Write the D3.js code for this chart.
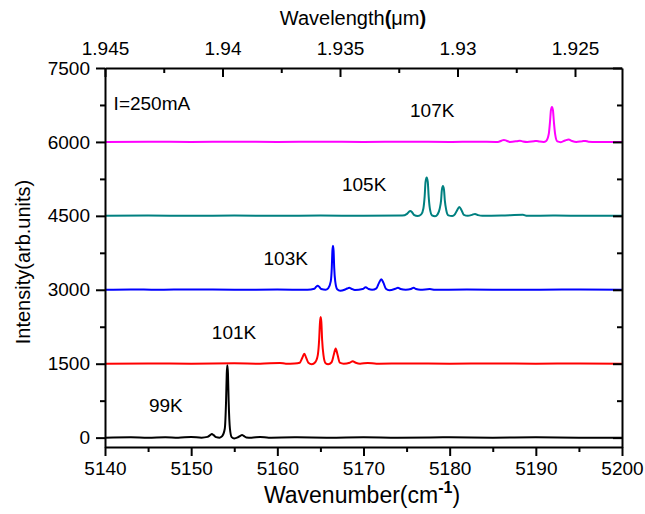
<html lang="en">
  <head>
    <title>spectra</title>
    <script src="https://d3js.org/d3.v7.min.js"></script>
    <style>
      body { margin: 0; background: #fff; }
      svg text { font-family: "Liberation Sans", Arial, sans-serif; fill: #000; }
      .axis path, .axis line { stroke: #000; stroke-width: 2; }
      .axis text { font-size: 19px; }
    </style>
  </head>
  <body>
    <svg id="chart" width="645" height="514"></svg>
    <script>

      // temperatures, curve offsets, colours
      const temps = ['99K', '101K', '103K', '105K', '107K']
      const offsets = [0, 1500, 3000, 4500, 6000]
      const colors = ['#000000', '#ff0000', '#0000ff', '#008080', '#ff00ff']

      // spectra: [wavenumber, intensity above its offset]
      const s99 = [
        [5140, 0], [5143, 8], [5145, 0], [5147, 10], [5148.5, 0], [5150, 12], [5151.2, 0],
        [5151.9, 15], [5152.2, 50], [5152.4, 72], [5152.6, 50], [5152.9, 10], [5153.3, 0],
        [5153.6, 30], [5153.9, 180], [5154.05, 740], [5154.13, 1300], [5154.2, 1470], [5154.27, 1300],
        [5154.35, 740], [5154.5, 180], [5154.7, 10], [5155.0, -15], [5155.4, 5],
        [5155.7, 35], [5155.9, 55], [5156.1, 35], [5156.4, 5], [5157, 0], [5158, 12], [5159, 0],
        [5162, 6], [5166, 0], [5170, 8], [5174, 0], [5180, 6], [5185, 0], [5190, 6], [5195, 0], [5200, 0]
      ]
      const s101 = [
        [5140, 0], [5145, 5], [5150, 0], [5155, 8], [5158, 0], [5160.3, 15], [5161, 0], [5162, 5],
        [5162.6, 20], [5162.9, 120], [5163.13, 200], [5163.35, 120], [5163.6, 20], [5164.0, -10],
        [5164.4, 30], [5164.7, 180], [5164.85, 480], [5164.95, 840], [5165.03, 950], [5165.11, 840],
        [5165.2, 480], [5165.35, 180], [5165.6, 10], [5165.9, -10],
        [5166.3, 30], [5166.55, 180], [5166.77, 310], [5166.99, 180], [5167.25, 20], [5167.7, 0],
        [5168.4, 20], [5168.75, 50], [5169.1, 20], [5169.6, 0], [5170.5, 15], [5171.5, 0],
        [5175, 6], [5180, 0], [5185, 5], [5190, 0], [5195, 5], [5200, 0]
      ]
      const s103 = [
        [5140, 0], [5143, 8], [5146, 0], [5150, 8], [5155, 0], [5160, 6], [5163.5, 0],
        [5164.3, 20], [5164.5, 60], [5164.68, 80], [5164.86, 60], [5165.1, 15], [5165.6, 0],
        [5165.9, 30], [5166.2, 170], [5166.32, 450], [5166.39, 790], [5166.46, 895], [5166.53, 790],
        [5166.6, 450], [5166.72, 170], [5166.95, 10], [5167.3, -20], [5167.8, 0],
        [5168.1, 25], [5168.35, 40], [5168.6, 20], [5169.0, -5], [5169.9, 15], [5170.25, 50],
        [5170.6, 15], [5171.0, 0], [5171.5, 30], [5171.8, 140], [5172.06, 215], [5172.32, 140],
        [5172.6, 20], [5173.0, -10], [5173.7, 20], [5174.0, 40], [5174.3, 15], [5174.9, 0],
        [5175.5, 15], [5175.82, 40], [5176.1, 15], [5176.6, 0], [5177.7, 15], [5178.3, 0],
        [5182, 6], [5188, 0], [5193, 6], [5200, 0]
      ]
      const s105 = [
        [5140, 0], [5145, 6], [5150, 0], [5155, 6], [5160, 0], [5165, 6], [5170, 0], [5174.5, 5],
        [5175.05, 40], [5175.25, 80], [5175.43, 100], [5175.61, 80], [5175.85, 20], [5176.3, -5],
        [5176.7, 30], [5176.95, 150], [5177.1, 400], [5177.2, 690], [5177.33, 780], [5177.46, 690],
        [5177.56, 400], [5177.7, 150], [5177.95, 10], [5178.3, -10],
        [5178.6, 30], [5178.85, 150], [5179.0, 310], [5179.1, 530], [5179.22, 605], [5179.34, 530],
        [5179.44, 310], [5179.6, 120], [5179.85, 10], [5180.3, -5],
        [5180.6, 30], [5180.85, 110], [5181.12, 180], [5181.39, 110], [5181.65, 20], [5182.1, 0],
        [5182.6, 20], [5182.94, 40], [5183.3, 15], [5183.8, 0], [5186, 5], [5188.5, 20], [5189, 0],
        [5192, 6], [5196, 0], [5200, 0]
      ]
      const s107 = [
        [5140, 0], [5145, 6], [5150, 0], [5155, 6], [5160, 0], [5165, 6], [5170, 0], [5175, 6],
        [5180, 0], [5183, 6], [5185.6, 0], [5186.0, 25], [5186.3, 40], [5186.6, 25], [5187.0, 0],
        [5187.8, 15], [5188.16, 25], [5188.5, 10], [5189, 0], [5189.8, 15], [5190.1, 20], [5190.4, 10],
        [5190.9, 0], [5191.2, 20], [5191.5, 160], [5191.65, 420], [5191.75, 640], [5191.87, 710],
        [5191.99, 640], [5192.09, 420], [5192.24, 160], [5192.5, 10], [5192.9, -5],
        [5193.4, 30], [5193.81, 50], [5194.2, 20], [5194.7, 0], [5195.4, 15], [5195.74, 20],
        [5196.1, 5], [5197, 0], [5200, 0]
      ]
      const spectra = [s99, s101, s103, s105, s107]

      // ticks
      const xTicks = [5140, 5150, 5160, 5170, 5180, 5190, 5200]
      const xMinor = [5145, 5155, 5165, 5175, 5185, 5195]
      const yTicks = [0, 1500, 3000, 4500, 6000, 7500]
      const yMinor = [750, 2250, 3750, 5250, 6750]
      const wlTicks = [1.945, 1.94, 1.935, 1.93, 1.925]
      const wlMinor = [1.9425, 1.9375, 1.9325, 1.9275]

      const svg = d3.select('#chart')
      const mLeft = 105, mRight = 622, mTop = 68, mBottom = 447

      const x = d3.scaleLinear().domain([5140, 5200]).range([mLeft, mRight])
      const y = d3.scaleLinear().domain([-190, 7500]).range([mBottom, mTop])
      const wl = d3.scaleLinear().domain([1.945, 1.923]).range([mLeft, mRight])

      const line = d3.line()
        .x(d => x(d[0]))
        .y(d => y(d[1]))
        .curve(d3.curveMonotoneX)

      svg.append('g')
        .selectAll('path')
        .data(spectra)
        .join('path')
        .attr('d', (d, i) => line(d.map(p => [p[0], p[1] + offsets[i]])))
        .attr('fill', 'none')
        .attr('stroke', (d, i) => colors[i])
        .attr('stroke-width', 2)
        .attr('stroke-linejoin', 'round')

      // bottom axis
      svg.append('g').attr('class', 'axis')
        .attr('transform', `translate(0,${mBottom})`)
        .call(d3.axisBottom(x).tickValues(xTicks).tickFormat(d3.format('d'))
          .tickSizeInner(9).tickSizeOuter(0).tickPadding(6))
      svg.append('g').attr('class', 'axis')
        .attr('transform', `translate(0,${mBottom})`)
        .call(d3.axisBottom(x).tickValues(xMinor).tickFormat('').tickSizeInner(5).tickSizeOuter(0))
        .select('.domain').remove()

      // left axis
      svg.append('g').attr('class', 'axis')
        .attr('transform', `translate(${mLeft},0)`)
        .call(d3.axisLeft(y).tickValues(yTicks).tickFormat(d3.format('d'))
          .tickSizeInner(9).tickSizeOuter(0).tickPadding(6))
      svg.append('g').attr('class', 'axis')
        .attr('transform', `translate(${mLeft},0)`)
        .call(d3.axisLeft(y).tickValues(yMinor).tickFormat('').tickSizeInner(5).tickSizeOuter(0))
        .select('.domain').remove()

      // right axis, ticks pointing in
      svg.append('g').attr('class', 'axis')
        .attr('transform', `translate(${mRight},0)`)
        .call(d3.axisRight(y).tickValues(yTicks).tickFormat('').tickSizeInner(-9).tickSizeOuter(0))
      svg.append('g').attr('class', 'axis')
        .attr('transform', `translate(${mRight},0)`)
        .call(d3.axisRight(y).tickValues(yMinor).tickFormat('').tickSizeInner(-5).tickSizeOuter(0))
        .select('.domain').remove()

      // top axis (wavelength), ticks pointing in
      svg.append('g').attr('class', 'axis')
        .attr('transform', `translate(0,${mTop})`)
        .call(d3.axisTop(wl).tickValues(wlTicks).tickFormat(d => String(d))
          .tickSizeInner(-9).tickSizeOuter(0).tickPadding(13))
      svg.append('g').attr('class', 'axis')
        .attr('transform', `translate(0,${mTop})`)
        .call(d3.axisTop(wl).tickValues(wlMinor).tickFormat('').tickSizeInner(-5).tickSizeOuter(0))
        .select('.domain').remove()

      // axis titles
      const xt = svg.append('text')
        .attr('x', 362).attr('y', 503)
        .attr('text-anchor', 'middle')
        .style('font-size', '23px')
      xt.append('tspan').text('Wavenumber(cm')
      xt.append('tspan').text('-1').attr('dy', -10).style('font-size', '16px').style('font-weight', 'bold')
      xt.append('tspan').text(')').attr('dy', 10)

      const tt = svg.append('text')
        .attr('x', 353).attr('y', 25)
        .attr('text-anchor', 'middle')
        .style('font-size', '20px')
      tt.append('tspan').text('Wavelength')
      tt.append('tspan').text('(').style('font-weight', 'bold')
      tt.append('tspan').text('\u03bc')
      tt.append('tspan').text('m')
      tt.append('tspan').text(')').style('font-weight', 'bold')

      svg.append('text')
        .attr('transform', 'translate(30,262) rotate(-90)')
        .attr('text-anchor', 'middle')
        .style('font-size', '20px')
        .text('Intensity(arb.units)')

      // curve labels
      const labelAt = [[5145.1, 519], [5152.4, 2001], [5158.4, 3502], [5167.5, 5004], [5175.4, 6504]]
      svg.append('g')
        .selectAll('text')
        .data(temps)
        .join('text')
        .attr('x', (d, i) => x(labelAt[i][0]))
        .attr('y', (d, i) => y(labelAt[i][1]))
        .style('font-size', '19px')
        .text(d => d)

      svg.append('text')
        .attr('x', x(5141)).attr('y', y(6646))
        .style('font-size', '19px')
        .text('I=250mA')
    </script>
  </body>
</html>
